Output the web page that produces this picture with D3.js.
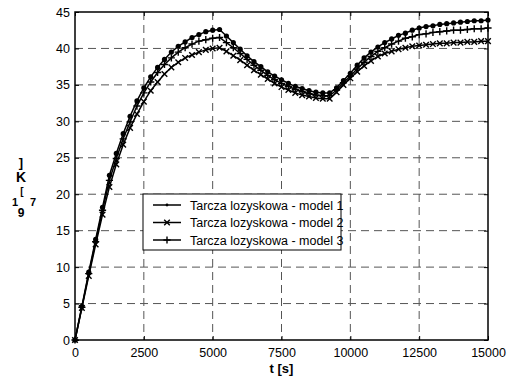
<!DOCTYPE html>
<html><head><meta charset="utf-8">
<script src="https://cdn.jsdelivr.net/npm/d3@7/dist/d3.min.js"></script>
<style>body{margin:0;background:#fff;}svg{display:block;font-family:"Liberation Sans",Arial,sans-serif;}</style>
</head><body><svg id="c" width="512" height="380"></svg>
<script>
const times = d3.range(0, 15001, 250);
const model1 = [0,4.6,9.3,13.8,18.2,22.6,25.6,28.3,30.7,32.8,34.6,36.1,37.4,38.5,39.5,40.3,40.9,41.5,41.9,42.3,42.5,42.6,41.7,40.8,39.9,39.0,38.2,37.5,36.8,36.2,35.7,35.2,34.8,34.5,34.2,34.0,33.9,33.9,34.6,35.6,36.6,37.7,38.7,39.5,40.2,40.8,41.3,41.8,42.1,42.5,42.8,43.0,43.1,43.3,43.4,43.5,43.6,43.7,43.8,43.8,43.9];
const model2 = [0,4.4,8.8,13.1,17.2,21.0,24.1,26.8,29.1,31.0,32.7,34.2,35.4,36.5,37.4,38.1,38.7,39.1,39.5,39.8,40.0,40.1,39.6,39.0,38.4,37.7,37.0,36.4,35.8,35.2,34.7,34.3,33.9,33.6,33.4,33.2,33.1,33.1,34.0,35.0,35.9,36.8,37.6,38.3,38.9,39.3,39.6,39.9,40.1,40.3,40.4,40.5,40.6,40.7,40.7,40.8,40.8,40.9,40.9,41.0,41.0];
const model3 = [0,4.5,9.1,13.5,17.8,21.9,24.9,27.6,29.9,32.1,33.9,35.4,36.7,37.8,38.7,39.5,40.1,40.6,41.0,41.2,41.4,41.5,40.8,40.1,39.3,38.5,37.7,37.0,36.3,35.7,35.2,34.8,34.4,34.1,33.8,33.6,33.5,33.5,34.3,35.3,36.2,37.2,38.1,38.9,39.6,40.1,40.6,41.0,41.4,41.6,41.9,42.0,42.2,42.3,42.4,42.5,42.5,42.6,42.7,42.7,42.8];
const seriesNames = ["Tarcza lozyskowa - model 1","Tarcza lozyskowa - model 2","Tarcza lozyskowa - model 3"];
const xTicks = [0,2500,5000,7500,10000,12500,15000];
const yTicks = [0,5,10,15,20,25,30,35,40,45];
const xLabel = "t [s]";

const svg = d3.select("#c");
const L=75, R=488, T=12, B=340;
const x = d3.scaleLinear().domain([0,15000]).range([L,R]);
const y = d3.scaleLinear().domain([0,45]).range([B,T]);

// grid
const g = svg.append("g");
g.selectAll(".vg").data(xTicks.slice(1,-1)).enter().append("line")
 .attr("x1",d=>x(d)).attr("x2",d=>x(d)).attr("y1",T).attr("y2",B)
 .attr("stroke","#555").attr("stroke-width",1).attr("stroke-dasharray","8,5");
g.selectAll(".hg").data(yTicks.slice(1,-1)).enter().append("line")
 .attr("y1",d=>y(d)).attr("y2",d=>y(d)).attr("x1",L).attr("x2",R)
 .attr("stroke","#555").attr("stroke-width",1).attr("stroke-dasharray","8,5");

// axes
svg.append("g").attr("transform",`translate(0,${B})`)
 .call(d3.axisBottom(x).tickValues(xTicks).tickSize(-4).tickPadding(8).tickFormat(d3.format("d")));
svg.append("g").attr("transform",`translate(${L},0)`)
 .call(d3.axisLeft(y).tickValues(yTicks).tickSize(-4).tickPadding(5));
svg.append("g").attr("transform",`translate(0,${T})`)
 .call(d3.axisTop(x).tickValues(xTicks).tickSize(-4).tickFormat(""));
svg.append("g").attr("transform",`translate(${R},0)`)
 .call(d3.axisRight(y).tickValues(yTicks).tickSize(-4).tickFormat(""));
svg.selectAll(".domain").remove();
svg.selectAll(".tick line").attr("stroke","#000");
svg.selectAll(".tick text").attr("font-size",12.5).attr("fill","#000").attr("font-family","Liberation Sans, Arial, sans-serif");
svg.append("rect").attr("x",L).attr("y",T).attr("width",R-L).attr("height",B-T)
 .attr("fill","none").attr("stroke","#000").attr("stroke-width",1.5);

// lines
const all = [model1,model2,model3];
const line = d3.line().x((d,i)=>x(times[i])).y(d=>y(d));
const lg = svg.append("g");
all.forEach(s=>{
  lg.append("path").datum(s).attr("d",line).attr("fill","none").attr("stroke","#000").attr("stroke-width",1.5);
});
function marker(sel, k, cx, cy){
  if(k===0){ sel.append("circle").attr("cx",cx).attr("cy",cy).attr("r",2.6).attr("fill","#000"); }
  else if(k===1){ const s=2.8;
    sel.append("path").attr("d",`M${cx-s},${cy-s}L${cx+s},${cy+s}M${cx-s},${cy+s}L${cx+s},${cy-s}`).attr("stroke","#000").attr("stroke-width",1.4); }
  else { const s=3.6;
    sel.append("path").attr("d",`M${cx-s},${cy}L${cx+s},${cy}M${cx},${cy-s}L${cx},${cy+s}`).attr("stroke","#000").attr("stroke-width",1.4); }
}
all.forEach((s,k)=>{ s.forEach((v,i)=>marker(lg,k,x(times[i]),y(v))); });

// legend
const lx=143, ly=194, lw=198, lh=56;
const leg = svg.append("g");
leg.append("rect").attr("x",lx).attr("y",ly).attr("width",lw).attr("height",lh).attr("fill","#fff").attr("stroke","#000").attr("stroke-width",1);
seriesNames.forEach((n,k)=>{
  const yy = ly+11+k*17.5;
  leg.append("line").attr("x1",lx+10).attr("x2",lx+38).attr("y1",yy).attr("y2",yy).attr("stroke","#000").attr("stroke-width",1.5);
  if(k===0) leg.append("circle").attr("cx",lx+24).attr("cy",yy).attr("r",1.4).attr("fill","#000");
  else marker(leg,k,lx+24,yy);
  leg.append("text").attr("x",lx+47).attr("y",yy+4.5).attr("font-size",12.5).text(n);
});

// x label
svg.append("text").attr("x",(L+R)/2).attr("y",373).attr("text-anchor","middle").attr("font-size",13).attr("font-weight","bold").text(xLabel);
// garbled y label
const yl = svg.append("g").attr("font-weight","bold").attr("text-anchor","middle");
yl.append("text").attr("x",21).attr("y",167).attr("font-size",13).text("]");
yl.append("text").attr("x",21).attr("y",182).attr("font-size",14).text("K");
yl.append("text").attr("x",22).attr("y",195).attr("font-size",10).text("[");
yl.append("text").attr("x",15).attr("y",206).attr("font-size",11).text("1");
yl.append("text").attr("x",33).attr("y",206).attr("font-size",11).text("7");
yl.append("text").attr("x",21).attr("y",217).attr("font-size",12).text("9");
</script></body></html>
